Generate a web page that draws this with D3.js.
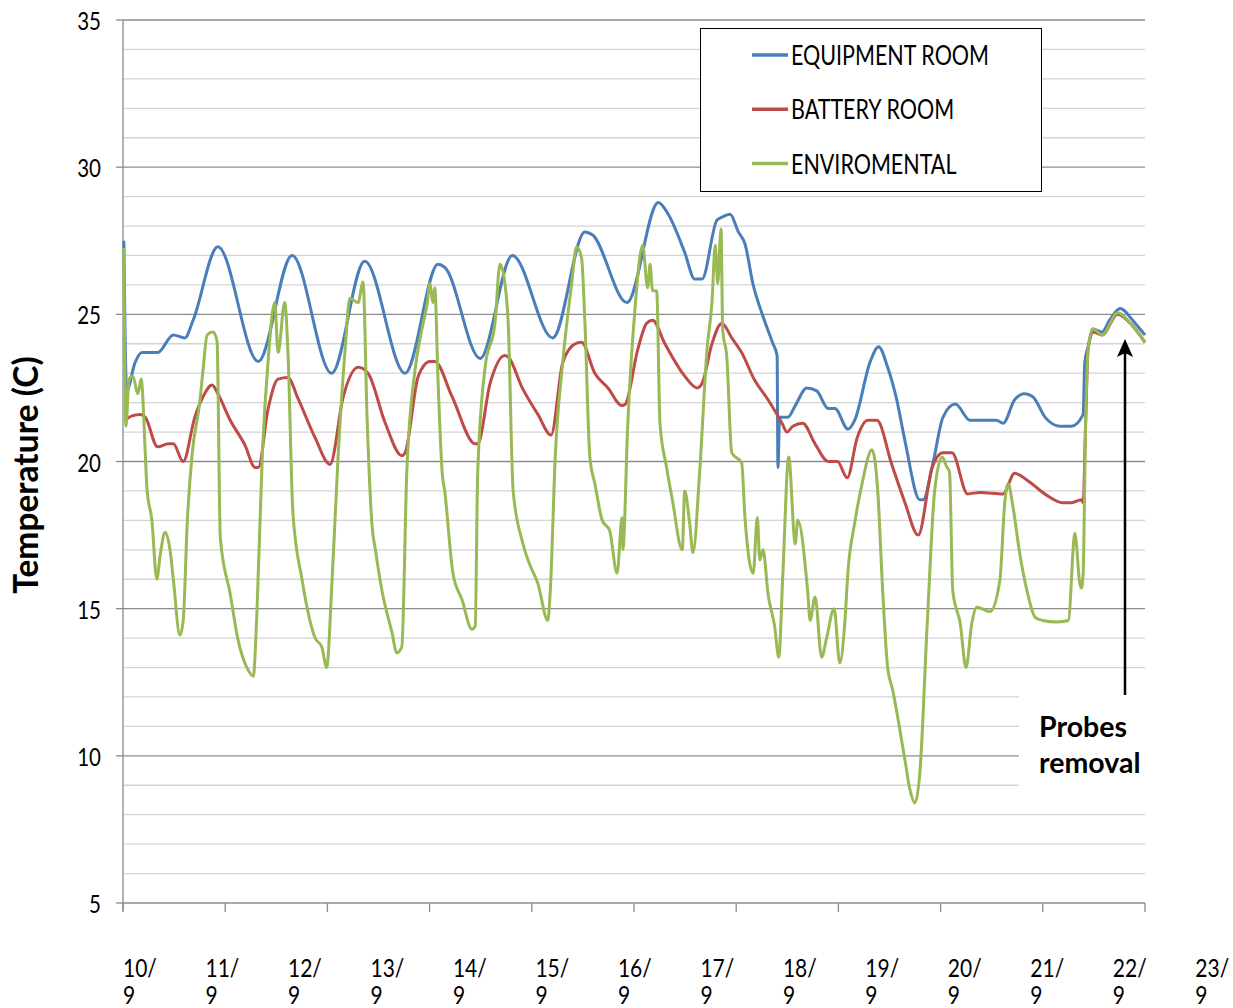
<!DOCTYPE html>
<html>
<head>
<meta charset="utf-8">
<script src="https://cdn.jsdelivr.net/npm/d3@7"></script>
<style>
  body { margin: 0; background: #fff; }
  svg { display: block; }
  text { font-family: Lato, "Open Sans", sans-serif; fill: #000; }
</style>
</head>
<body>
<svg width="1233" height="1008"></svg>
<script>
// temperatures, [days since 10/9, degrees C]
var equipment = [
  [0.01,27.5],[0.045,22.4],[0.145,23.35],[0.23,23.7],[0.42,23.7],[0.61,24.3],[0.75,24.2],[0.85,24.8],
  [1.15,27.3],[1.64,23.4],[2.05,27.0],[2.53,23.0],[2.93,26.8],[3.42,23.0],[3.82,26.7],[3.9,26.6],
  [4.33,23.5],[4.72,27.0],[5.21,24.2],[5.6,27.8],[5.69,27.7],[6.11,25.4],[6.49,28.8],[6.61,28.4],
  [6.81,27.1],[6.93,26.2],[7.02,26.2],[7.2,28.2],[7.26,28.3],[7.36,28.4],[7.46,27.8],[7.54,27.4],
  [7.64,26.0],[7.75,25.0],[7.88,24.0],[7.93,23.6],[7.94,19.8],[7.96,21.5],[8.06,21.5],[8.15,21.9],
  [8.29,22.5],[8.41,22.4],[8.55,21.8],[8.63,21.8],[8.79,21.1],[8.87,21.4],[9.06,23.4],[9.16,23.9],
  [9.27,23.2],[9.38,22.1],[9.48,20.7],[9.66,18.7],[9.7,18.7],[9.82,19.95],[9.94,21.5],[10.09,21.95],
  [10.27,21.4],[10.59,21.4],[10.67,21.3],[10.81,22.1],[10.93,22.3],[11.03,22.2],[11.18,21.5],[11.36,21.2],
  [11.5,21.2],[11.64,21.6],[11.66,23.35],[11.7,23.9],[11.76,24.5],[11.87,24.4],[11.96,24.8],[12.09,25.2],
  [12.15,25.1],[12.21,24.9],[12.39,24.3]
];

var battery = [
  [0.02,21.4],[0.11,21.55],[0.21,21.6],[0.27,21.5],[0.42,20.5],[0.55,20.6],[0.61,20.6],[0.73,20.0],
  [0.87,21.5],[0.97,22.2],[1.08,22.6],[1.15,22.3],[1.3,21.4],[1.48,20.55],[1.6,19.8],[1.64,19.8],
  [1.76,21.8],[1.88,22.8],[2.0,22.85],[2.12,22.15],[2.33,20.8],[2.51,19.9],[2.67,22.2],[2.85,23.2],
  [2.97,23.0],[3.18,21.3],[3.38,20.2],[3.42,20.3],[3.58,22.9],[3.72,23.4],[3.78,23.4],[3.99,22.2],
  [4.27,20.6],[4.3,20.6],[4.45,22.65],[4.63,23.6],[4.67,23.55],[4.84,22.5],[5.03,21.6],[5.19,20.9],
  [5.33,23.35],[5.48,24.0],[5.56,24.05],[5.72,23.0],[5.88,22.5],[6.05,21.9],[6.09,21.95],[6.24,23.8],
  [6.35,24.7],[6.42,24.8],[6.57,24.0],[6.81,22.9],[6.96,22.5],[7.02,22.65],[7.14,24.0],[7.26,24.7],
  [7.38,24.2],[7.5,23.7],[7.66,22.75],[7.82,22.1],[7.99,21.3],[8.05,21.0],[8.12,21.2],[8.24,21.3],
  [8.39,20.6],[8.55,20.0],[8.66,20.0],[8.78,19.45],[8.9,20.8],[9.03,21.4],[9.14,21.4],[9.32,19.9],
  [9.48,18.6],[9.64,17.5],[9.81,19.8],[9.94,20.3],[10.05,20.3],[10.24,18.9],[10.39,18.95],[10.67,18.9],
  [10.81,19.6],[10.99,19.3],[11.2,18.85],[11.39,18.6],[11.5,18.6],[11.62,18.7],[11.64,18.6],[11.67,21.3],
  [11.7,23.8],[11.76,24.4],[11.87,24.3],[12.06,25.0],[12.21,24.7],[12.39,24.05]
];

var environmental = [
  [0.01,27.25],[0.036,21.2],[0.073,22.8],[0.12,22.9],[0.18,22.3],[0.22,22.8],[0.27,20.3],[0.29,19.1],
  [0.35,18.0],[0.41,16.0],[0.45,16.8],[0.51,17.6],[0.57,17.0],[0.61,16.0],[0.69,14.1],[0.73,14.6],
  [0.78,18.0],[0.84,20.3],[0.93,22.0],[0.97,23.1],[1.02,24.3],[1.09,24.4],[1.14,24.1],[1.18,17.4],
  [1.3,15.5],[1.39,14.0],[1.52,12.9],[1.58,12.7],[1.62,14.6],[1.69,20.3],[1.76,23.45],[1.84,25.4],
  [1.88,23.7],[1.96,25.4],[2.0,23.7],[2.06,18.25],[2.17,16.0],[2.33,14.0],[2.41,13.7],[2.47,13.0],
  [2.53,15.7],[2.61,20.3],[2.69,23.7],[2.75,25.55],[2.85,25.4],[2.91,26.1],[2.96,21.4],[3.02,17.8],
  [3.06,17.0],[3.14,15.6],[3.26,14.2],[3.32,13.5],[3.38,13.7],[3.44,19.6],[3.54,23.1],[3.62,24.45],
  [3.69,25.4],[3.72,26.05],[3.76,25.4],[3.78,25.9],[3.82,22.7],[3.87,19.6],[3.9,19.0],[4.0,16.2],
  [4.11,15.3],[4.23,14.3],[4.27,14.4],[4.3,19.6],[4.39,23.2],[4.51,24.7],[4.57,26.7],[4.63,26.05],
  [4.67,24.7],[4.73,19.0],[4.84,17.3],[4.91,16.65],[5.03,15.85],[5.15,14.6],[5.18,15.6],[5.24,20.15],
  [5.33,23.35],[5.44,26.05],[5.5,27.3],[5.56,26.9],[5.6,24.7],[5.66,20.15],[5.72,19.25],[5.81,18.0],
  [5.9,17.65],[5.99,16.2],[6.05,18.1],[6.06,17.0],[6.12,21.3],[6.21,25.3],[6.3,27.35],[6.36,25.9],
  [6.39,26.7],[6.42,25.8],[6.47,25.8],[6.51,21.3],[6.59,19.8],[6.66,18.7],[6.78,17.0],[6.81,19.0],
  [6.87,17.9],[6.91,16.9],[6.99,19.6],[7.08,23.8],[7.14,25.4],[7.18,27.35],[7.21,26.05],[7.25,27.9],
  [7.27,24.5],[7.32,23.55],[7.38,20.3],[7.5,19.95],[7.54,18.1],[7.64,16.2],[7.69,18.1],[7.72,16.65],
  [7.76,17.0],[7.82,15.5],[7.9,14.4],[7.95,13.35],[8.0,16.2],[8.07,20.15],[8.15,17.2],[8.18,18.0],
  [8.3,15.6],[8.33,14.6],[8.39,15.4],[8.47,13.35],[8.53,14.0],[8.62,15.0],[8.69,13.15],[8.75,14.5],
  [8.79,16.3],[8.87,17.9],[8.96,19.25],[9.08,20.4],[9.15,19.0],[9.21,15.6],[9.27,13.0],[9.33,12.25],
  [9.48,9.85],[9.54,8.85],[9.6,8.4],[9.66,9.4],[9.75,14.5],[9.84,19.0],[9.93,20.15],[9.99,19.8],
  [10.02,19.65],[10.06,15.6],[10.15,14.5],[10.22,13.0],[10.29,14.5],[10.35,15.05],[10.51,14.9],[10.63,15.95],
  [10.69,18.6],[10.73,19.25],[10.79,18.45],[10.87,16.9],[10.96,15.6],[11.06,14.7],[11.15,14.6],[11.32,14.55],
  [11.46,14.6],[11.54,17.55],[11.6,15.85],[11.62,15.7],[11.64,16.2],[11.67,21.3],[11.7,23.8],[11.76,24.5],
  [11.87,24.3],[12.06,25.05],[12.21,24.7],[12.39,24.05]
];

var seriesNames = ["EQUIPMENT ROOM", "BATTERY ROOM", "ENVIROMENTAL"];
var seriesColors = ["#4a7ebb", "#be4b48", "#98b954"];
var dayLabels = ["10/9", "11/9", "12/9", "13/9", "14/9", "15/9", "16/9",
                 "17/9", "18/9", "19/9", "20/9", "21/9", "22/9", "23/9"];
var yTicks = [5, 10, 15, 20, 25, 30, 35];

var svg = d3.select("svg");
var stretch = 1.22; // tall narrow lettering of the original

var x = d3.scaleLinear().domain([0, 12.39]).range([123, 1145]);
var y = d3.scaleLinear().domain([5, 35]).range([903, 20]);

// gridlines, one per degree
svg.append("g").selectAll("line")
  .data(d3.range(5, 36))
  .enter().append("line")
    .attr("x1", x.range()[0])
    .attr("x2", x.range()[1])
    .attr("y1", function(d) { return y(d); })
    .attr("y2", function(d) { return y(d); })
    .attr("stroke", function(d) { return d % 5 === 0 ? "#8c8c8c" : "#d4d4d4"; })
    .attr("stroke-width", 1.3);

// left axis
svg.append("line")
  .attr("x1", 123).attr("x2", 123)
  .attr("y1", y(35)).attr("y2", y(5) + 8)
  .attr("stroke", "#8c8c8c").attr("stroke-width", 1.3);

svg.append("g").selectAll("line")
  .data(yTicks)
  .enter().append("line")
    .attr("x1", 116).attr("x2", 123)
    .attr("y1", function(d) { return y(d); })
    .attr("y2", function(d) { return y(d); })
    .attr("stroke", "#8c8c8c").attr("stroke-width", 1.3);

svg.append("g").selectAll("text")
  .data(yTicks)
  .enter().append("text")
    .attr("transform", function(d) { return "translate(101," + (y(d) + 10) + ") scale(1," + stretch + ")"; })
    .attr("text-anchor", "end")
    .style("font-size", "20.5px")
    .text(function(d) { return d; });

// bottom axis tick marks (category ticks, evenly spread)
var tickPos = d3.scaleLinear().domain([0, 10]).range(x.range());
svg.append("g").selectAll("line")
  .data(d3.range(11))
  .enter().append("line")
    .attr("x1", function(d) { return tickPos(d); })
    .attr("x2", function(d) { return tickPos(d); })
    .attr("y1", y(5)).attr("y2", y(5) + 9)
    .attr("stroke", "#8c8c8c").attr("stroke-width", 1.3);

// day labels, wrapped onto two lines like the original
var dayG = svg.append("g").selectAll("g")
  .data(dayLabels)
  .enter().append("g");

dayG.append("text")
  .attr("transform", function(d, i) { return "translate(" + x(i) + ",977) scale(1," + stretch + ")"; })
  .style("font-size", "21px")
  .text(function(d) { return d.split("/")[0] + "/"; });

dayG.append("text")
  .attr("transform", function(d, i) { return "translate(" + x(i) + ",1004) scale(1," + stretch + ")"; })
  .style("font-size", "21px")
  .text(function(d) { return d.split("/")[1]; });

// y title
svg.append("text")
  .attr("transform", "translate(38,475) rotate(-90)")
  .attr("text-anchor", "middle")
  .style("font-size", "33.5px")
  .style("font-weight", "bold")
  .text("Temperature (C)");

// white patch behind the annotation text
svg.append("rect")
  .attr("x", 1019).attr("y", 683)
  .attr("width", 214).attr("height", 112)
  .attr("fill", "#fff");

// series lines
var line = d3.line()
  .x(function(d) { return x(d[0]); })
  .y(function(d) { return y(d[1]); })
  .curve(d3.curveMonotoneX);

svg.append("g").selectAll("path")
  .data([equipment, battery, environmental])
  .enter().append("path")
    .attr("d", line)
    .attr("fill", "none")
    .attr("stroke", function(d, i) { return seriesColors[i]; })
    .attr("stroke-width", 3)
    .attr("stroke-linejoin", "round");

// legend
var legend = svg.append("g");
legend.append("rect")
  .attr("x", 700.5).attr("y", 28.5)
  .attr("width", 341).attr("height", 163)
  .attr("fill", "#fff")
  .attr("stroke", "#000").attr("stroke-width", 1);

var item = legend.selectAll("g")
  .data(seriesNames)
  .enter().append("g")
    .attr("transform", function(d, i) { return "translate(0," + (55 + i * 54.3) + ")"; });

item.append("line")
  .attr("x1", 752).attr("x2", 788)
  .attr("stroke", function(d, i) { return seriesColors[i]; })
  .attr("stroke-width", 3.5);

item.append("text")
  .attr("transform", "translate(791,10) scale(1," + stretch + ")")
  .style("font-size", "21.5px")
  .text(function(d) { return d; });

// annotation
svg.append("line")
  .attr("x1", 1125).attr("x2", 1125)
  .attr("y1", 695).attr("y2", 352)
  .attr("stroke", "#000").attr("stroke-width", 2.5);

svg.append("path")
  .attr("d", "M1125,339 L1133,357 L1125,353 L1117,357 Z")
  .attr("fill", "#000");

var note = svg.append("text")
  .style("font-size", "28.5px")
  .style("font-weight", "bold");
note.append("tspan").attr("x", 1039).attr("y", 737).text("Probes");
note.append("tspan").attr("x", 1039).attr("y", 773).text("removal");
</script>
</body>
</html>
